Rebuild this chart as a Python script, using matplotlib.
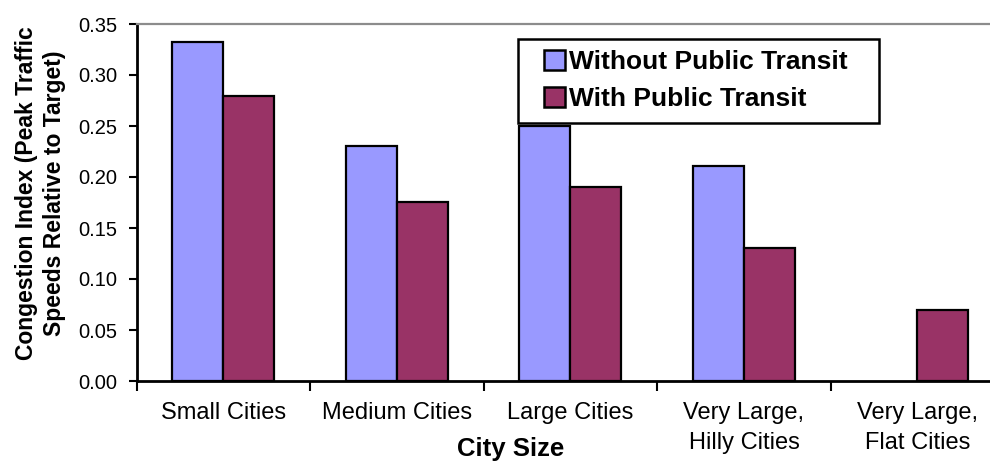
import matplotlib
matplotlib.use('Agg')
import matplotlib.pyplot as plt
from matplotlib.patches import Rectangle
import numpy as np

plt.rcParams['font.family'] = ['Liberation Sans', 'DejaVu Sans']

# ── data ──────────────────────────────────────────────────────────────────────
categories = ['Small Cities', 'Medium Cities', 'Large Cities',
              'Very Large,\nHilly Cities', 'Very Large,\nFlat Cities']
without_transit = [0.332, 0.230, 0.250, 0.211, np.nan]
with_transit    = [0.279, 0.175, 0.190, 0.130, 0.070]
series_names = ['Without Public Transit', 'With Public Transit']
yticks = [0.00, 0.05, 0.10, 0.15, 0.20, 0.25, 0.30, 0.35]

LAVENDER = '#9999FF'
MAROON   = '#993366'

W, H, DPI = 990, 461, 100
fig = plt.figure(figsize=(W / DPI, H / DPI), dpi=DPI)
fig.patch.set_facecolor('white')

# plot area runs off the right edge, like the source
ax = fig.add_axes([136.7 / W, (H - 381) / H, 867.5 / W, 357 / H])

x = np.arange(len(categories))
bw = 0.294
ax.bar(x - bw / 2, without_transit, bw, color=LAVENDER, edgecolor='black',
       linewidth=1.6, label=series_names[0], zorder=2)
ax.bar(x + bw / 2, with_transit, bw, color=MAROON, edgecolor='black',
       linewidth=1.6, label=series_names[1], zorder=2)

ax.set_xlim(-0.5, len(categories) - 0.5)
ax.set_ylim(0, 0.35)
ax.set_yticks(yticks)
ax.set_yticklabels([f'{v:.2f}' for v in yticks], fontsize=14.5)
ax.tick_params(axis='y', direction='out', length=6, width=1.5, pad=8)

ax.set_xticks(x)
ax.set_xticklabels(categories, fontsize=17, linespacing=1.5)
ax.tick_params(axis='x', which='major', length=0, pad=15)
ax.set_xticks(np.arange(len(categories) + 1) - 0.5, minor=True)
ax.tick_params(axis='x', which='minor', direction='out', length=7, width=1.5)

for s in ('left', 'bottom'):
    ax.spines[s].set_linewidth(2)
    ax.spines[s].set_color('black')
ax.spines['top'].set_color('#8C8C8C')
ax.spines['top'].set_linewidth(1.6)
ax.spines['right'].set_visible(False)

fig.text(27 / W, 1 - 193 / H, 'Congestion Index (Peak Traffic',
         rotation=90, ha='center', va='center', fontsize=16.5, fontweight='bold')
fig.text(55 / W, 1 - 193 / H, 'Speeds Relative to Target)',
         rotation=90, ha='center', va='center', fontsize=16.5, fontweight='bold')
fig.text(511 / W, 1 - 449 / H, 'City Size', ha='center', va='center',
         fontsize=18.5, fontweight='bold')

# legend box drawn separately: wide side padding, tight top/bottom
ax.add_patch(Rectangle((518 / W, 1 - 122.7 / H), 361 / W, 83.4 / H,
                       transform=fig.transFigure, facecolor='white',
                       edgecolor='black', linewidth=1.8, zorder=5, clip_on=False))
leg = ax.legend(loc='upper left', bbox_to_anchor=(544 / W, 1 - 50 / H),
                bbox_transform=fig.transFigure, prop={'size': 19, 'weight': 'bold'},
                frameon=False, handlelength=0.78, handleheight=0.78,
                handletextpad=0.15, labelspacing=0.5, borderpad=0.0,
                borderaxespad=0)
leg.set_zorder(6)
for h in leg.legend_handles:
    h.set_linewidth(1.8)

fig.savefig('out.png', dpi=DPI, facecolor='white')
